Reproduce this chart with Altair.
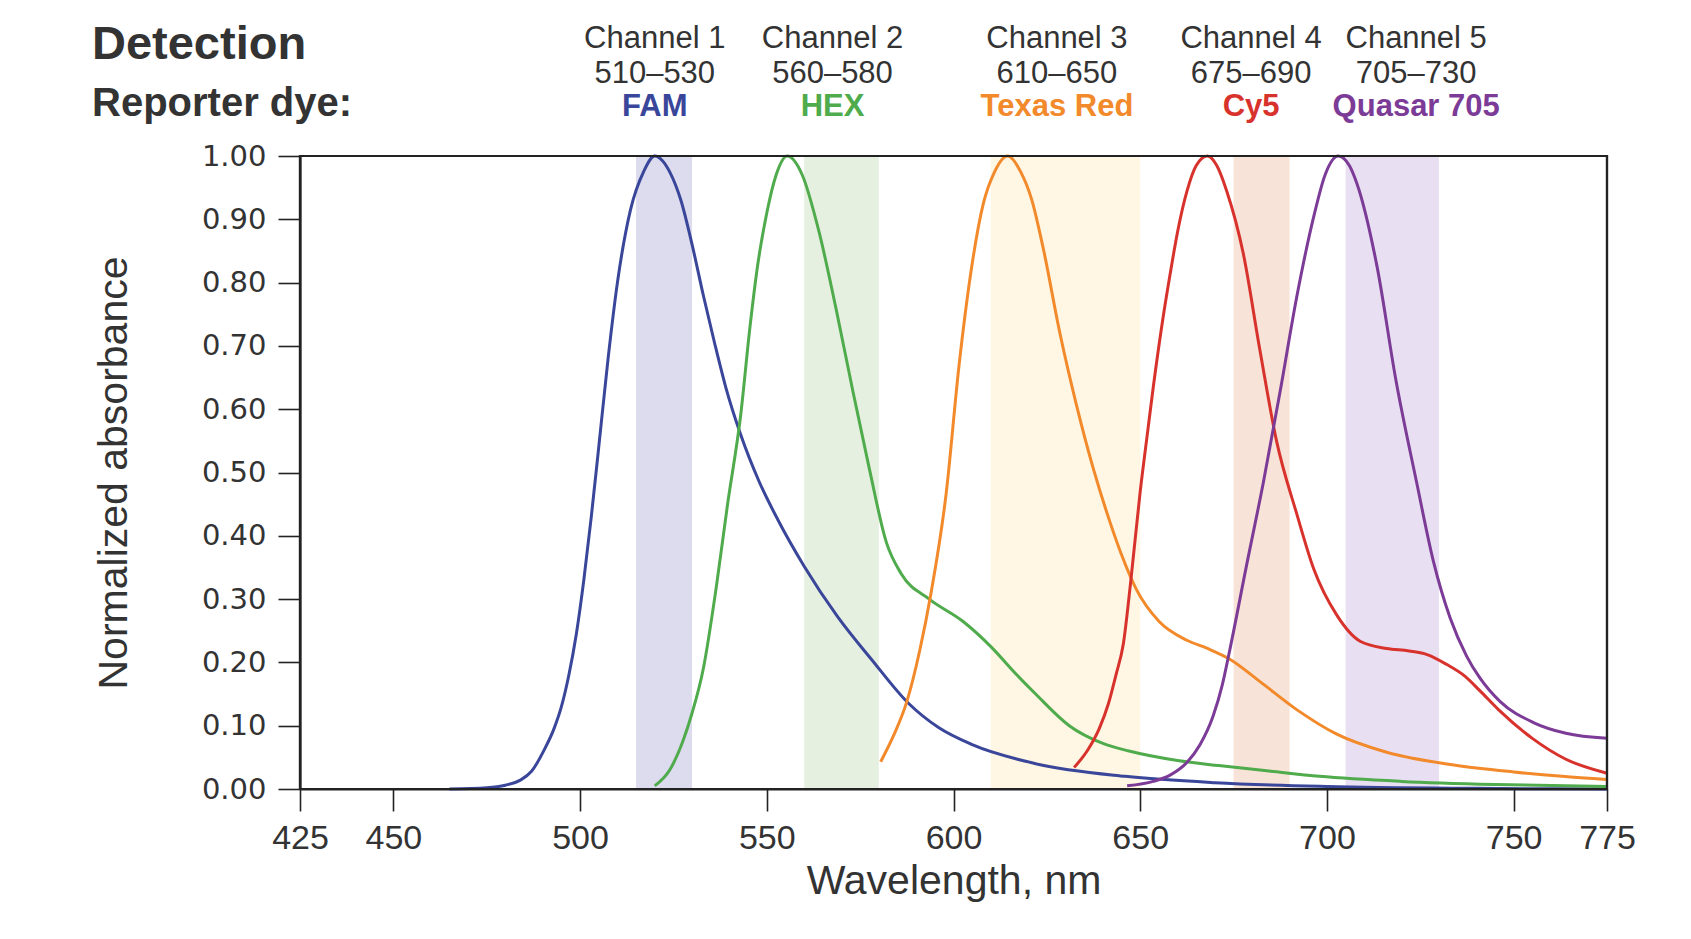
import altair as alt
import pandas as pd

# ---------------- data ----------------
dyes = ["FAM", "HEX", "Texas Red", "Cy5", "Quasar 705"]
dye_colors = ["#39469a", "#4fab4c", "#f28a2b", "#d8322c", "#7b3b96"]
band_colors = ["#dcdcee", "#e6f0e0", "#fff6e4", "#f8e3d8", "#e9dff2"]
band_start = [515, 560, 610, 675, 705]
band_end = [530, 580, 650, 690, 730]
channel_names = ["Channel 1", "Channel 2", "Channel 3", "Channel 4", "Channel 5"]
channel_ranges = ["510–530", "560–580", "610–650", "675–690", "705–730"]
label_nm = [520.0, 567.6, 627.7, 679.7, 723.9]

fam_nm = [465, 475, 480, 484, 487, 490.5, 493, 495, 497, 499, 501, 503, 505, 507.5,
          510, 513.5, 517, 520, 522, 524, 527, 530, 533, 536, 539, 543, 548, 553, 560, 569,
          578, 588, 596, 605, 622, 646, 670, 700, 740, 775]
fam_val = [0.0, 0.002, 0.006, 0.014, 0.028, 0.063, 0.095, 0.13, 0.18, 0.245, 0.33, 0.43,
           0.54, 0.68, 0.80, 0.915, 0.975, 1.0, 0.993, 0.975, 0.93, 0.86, 0.78, 0.705, 0.635,
           0.56, 0.485, 0.425, 0.352, 0.272, 0.205, 0.135, 0.097, 0.07, 0.04, 0.02, 0.01,
           0.004, 0.001, 0.0]

hex_nm = [520, 524, 527.5, 530, 533, 536.5, 539.5, 543, 545.5, 547.5, 550, 552.5, 555.5,
          559.5, 564, 568.5, 573, 577.5, 582, 586, 593.5, 602.5, 610, 617, 622, 631, 640,
          647, 660, 671, 685, 698, 720, 745, 775]
hex_val = [0.005, 0.03, 0.075, 0.12, 0.19, 0.32, 0.45, 0.59, 0.73, 0.825, 0.91, 0.97, 1.0,
           0.97, 0.88, 0.76, 0.63, 0.505, 0.39, 0.34, 0.30, 0.265, 0.225, 0.18, 0.15, 0.10,
           0.072, 0.06, 0.045, 0.037, 0.028, 0.02, 0.012, 0.007, 0.004]

txr_nm = [580.5, 584, 587.5, 591, 594, 598, 601.5, 604.5, 608, 611, 614.5, 618, 621, 624,
          628.5, 633, 637.5, 642, 645, 649, 655, 662.5, 668, 674, 682, 692, 702.5, 716, 734,
          750, 763, 775]
txr_val = [0.043, 0.085, 0.138, 0.22, 0.31, 0.465, 0.67, 0.81, 0.925, 0.975, 1.0, 0.975,
           0.93, 0.855, 0.72, 0.605, 0.505, 0.42, 0.37, 0.315, 0.265, 0.235, 0.222, 0.205,
           0.17, 0.125, 0.087, 0.058, 0.038, 0.027, 0.02, 0.015]

cy5_nm = [632.3, 636, 639, 641.5, 643.5, 645.5, 647.5, 650, 652, 653.5, 656, 658, 660,
          662.5, 665, 668, 670.5, 673.2, 677.6, 682, 686.5, 692, 696.5, 702.6, 709, 716, 722,
          727, 732, 737, 741, 746, 755, 764, 775]
cy5_val = [0.034, 0.062, 0.095, 0.135, 0.18, 0.23, 0.33, 0.47, 0.565, 0.635, 0.74, 0.813,
           0.88, 0.944, 0.985, 1.0, 0.985, 0.944, 0.846, 0.695, 0.55, 0.433, 0.347, 0.275,
           0.233, 0.222, 0.218, 0.212, 0.197, 0.178, 0.155, 0.125, 0.08, 0.047, 0.025]

q705_nm = [646.5, 653.5, 658, 662.5, 666, 669.5, 672, 674, 678.5, 683, 687.5, 692, 696.5,
           699.5, 703, 706, 708, 713.4, 718.5, 724, 728.5, 733, 737.4, 741, 746.4, 755.3,
           764, 775]
q705_val = [0.005, 0.012, 0.022, 0.042, 0.07, 0.115, 0.165, 0.22, 0.354, 0.485, 0.629, 0.78,
            0.905, 0.97, 1.0, 0.985, 0.957, 0.826, 0.645, 0.485, 0.36, 0.27, 0.21, 0.175,
            0.138, 0.105, 0.088, 0.08]

x_ticks = [425, 450, 500, 550, 600, 650, 700, 750, 775]
y_ticks = [0.0, 0.1, 0.2, 0.3, 0.4, 0.5, 0.6, 0.7, 0.8, 0.9, 1.0]

# ---------------- tables ----------------
series = [(dyes[0], fam_nm, fam_val), (dyes[1], hex_nm, hex_val), (dyes[2], txr_nm, txr_val),
          (dyes[3], cy5_nm, cy5_val), (dyes[4], q705_nm, q705_val)]
rows = []
for name, xs, ys in series:
    for a, b in zip(xs, ys):
        rows.append({"dye": name, "nm": a, "val": b})
curves = pd.DataFrame(rows)

bands = pd.DataFrame({"dye": dyes, "start": band_start, "end": band_end})
labels = pd.DataFrame({"dye": dyes, "x": label_nm, "channel": channel_names,
                       "range": channel_ranges})

W, H = 1307, 633
SANS = "Liberation Sans, Arial, Helvetica, sans-serif"

xscale = alt.Scale(domain=[425, 775], nice=False, zero=False)
yscale = alt.Scale(domain=[0, 1], nice=False)
dye_color = alt.Scale(domain=dyes, range=dye_colors)
band_color = alt.Scale(domain=dyes, range=band_colors)

band_layer = alt.Chart(bands).mark_rect(opacity=1).encode(
    x=alt.X("start:Q", scale=xscale),
    x2="end:Q",
    y=alt.datum(0, scale=yscale),
    y2=alt.datum(1),
    color=alt.Color("dye:N", scale=band_color, legend=None),
)

line_layer = alt.Chart(curves).mark_line(strokeWidth=3, interpolate="monotone").encode(
    x=alt.X("nm:Q", scale=xscale,
            axis=alt.Axis(values=x_ticks, title="Wavelength, nm", grid=False,
                          labelFont=SANS, labelFontSize=34, labelColor="#333",
                          labelPadding=10, tickSize=22, tickColor="#222", tickWidth=1.6,
                          domainColor="#222", domainWidth=2.2, labelFlush=False,
                          titleFont=SANS, titleFontSize=41, titleFontWeight="normal",
                          titleColor="#333", titleBaseline="alphabetic", titleY=104)),
    y=alt.Y("val:Q", scale=yscale,
            axis=alt.Axis(values=y_ticks, format=".2f", title="Normalized absorbance",
                          grid=False, labelFont="DejaVu Sans", labelFontSize=29,
                          labelColor="#333", labelPadding=12, tickSize=22,
                          tickColor="#222", tickWidth=1.6, domainColor="#222",
                          domainWidth=2.2, labelFlush=False,
                          titleFont=SANS, titleFontSize=41, titleFontWeight="normal",
                          titleColor="#333", titleX=-174, titleY=H / 2,
                          titleBaseline="alphabetic")),
    color=alt.Color("dye:N", scale=dye_color, legend=None),
    detail="dye:N",
)

frame_layer = alt.Chart(bands).mark_rect(filled=False, stroke="#222", strokeWidth=2.2).encode(
    x=alt.datum(425, scale=xscale), x2=alt.datum(775),
    y=alt.datum(0, scale=yscale), y2=alt.datum(1),
).transform_filter("datum.dye == 'FAM'")

txt_common = dict(font=SANS, align="center", baseline="alphabetic")
ch_layer = alt.Chart(labels).mark_text(fontSize=31, color="#333", **txt_common).encode(
    x=alt.X("x:Q", scale=xscale), y=alt.value(-108), text="channel:N")
rg_layer = alt.Chart(labels).mark_text(fontSize=31, color="#333", **txt_common).encode(
    x=alt.X("x:Q", scale=xscale), y=alt.value(-73), text="range:N")
dy_layer = alt.Chart(labels).mark_text(fontSize=31, fontWeight="bold", **txt_common).encode(
    x=alt.X("x:Q", scale=xscale), y=alt.value(-40),
    text="dye:N", color=alt.Color("dye:N", scale=dye_color, legend=None))

head = pd.DataFrame({"t": ["Detection", "Reporter dye:"], "row": ["a", "b"]})
det_layer = alt.Chart(head).transform_filter("datum.row == 'a'").mark_text(
    font=SANS, fontSize=47, fontWeight="bold", color="#333",
    align="left", baseline="alphabetic").encode(
    x=alt.value(-208), y=alt.value(-97), text="t:N")
rep_layer = alt.Chart(head).transform_filter("datum.row == 'b'").mark_text(
    font=SANS, fontSize=40, fontWeight="bold", color="#333",
    align="left", baseline="alphabetic").encode(
    x=alt.value(-208), y=alt.value(-40), text="t:N")

chart = alt.layer(band_layer, line_layer, frame_layer, ch_layer, rg_layer, dy_layer,
                  det_layer, rep_layer).resolve_scale(color="independent").properties(
    width=W, height=H,
    autosize=alt.AutoSizeParams(type="none"),
    padding={"left": 292, "top": 148, "right": 70, "bottom": 130},
).configure(background="white").configure_view(stroke="#222", strokeWidth=2.2)

chart.save("out.html", embed_options={"renderer": "svg", "actions": False})
